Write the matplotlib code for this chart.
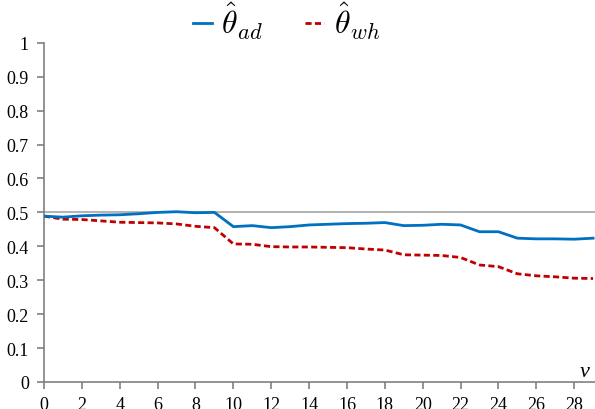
import numpy as np
import matplotlib.pyplot as plt

plt.rcParams['font.family'] = 'serif'
plt.rcParams['font.serif'] = ['Liberation Serif', 'DejaVu Serif']
plt.rcParams['mathtext.fontset'] = 'cm'

# data
v = list(range(30))
theta_ad = [0.489, 0.486, 0.490, 0.492, 0.493, 0.496, 0.500, 0.502, 0.499, 0.500,
            0.458, 0.461, 0.455, 0.458, 0.463, 0.465, 0.467, 0.468, 0.470, 0.461,
            0.462, 0.465, 0.463, 0.443, 0.443, 0.424, 0.422, 0.422, 0.421, 0.424]
theta_wh = [0.489, 0.480, 0.479, 0.475, 0.471, 0.470, 0.469, 0.466, 0.459, 0.455,
            0.407, 0.406, 0.399, 0.398, 0.398, 0.397, 0.396, 0.392, 0.389, 0.375,
            0.374, 0.373, 0.367, 0.345, 0.340, 0.319, 0.313, 0.310, 0.306, 0.305]
ref_level = 0.5
xticks = list(range(0, 29, 2))
yticks = [0, 0.1, 0.2, 0.3, 0.4, 0.5, 0.6, 0.7, 0.8, 0.9, 1]
ytick_labels = ['0', '0.1', '0.2', '0.3', '0.4', '0.5', '0.6', '0.7', '0.8', '0.9', '1']

fig = plt.figure(figsize=(5.95, 4.10), dpi=100)
ax = fig.add_axes([0.074, 0.066, 0.926, 0.827])

ax.axhline(ref_level, color='#a6a6a6', lw=1.2, zorder=1)
ax.plot(v, theta_ad, color='#0070c0', lw=2, label=r'$\hat{\theta}_{ad}$', zorder=3)
ax.plot(v, theta_wh, color='#c00000', lw=2, linestyle=(0, (2.2, 1.2)),
        label=r'$\hat{\theta}_{wh}$', zorder=2)

ax.set_xlim(0, 29.1)
ax.set_ylim(0, 1)
ax.set_xticks(xticks)
ax.set_yticks(yticks)
ax.set_yticklabels(ytick_labels)

for s in ['top', 'right']:
    ax.spines[s].set_visible(False)
for s in ['left', 'bottom']:
    ax.spines[s].set_color('#808080')
    ax.spines[s].set_linewidth(1.2)
ax.tick_params(axis='both', colors='#808080', labelcolor='black', labelsize=13,
               length=5, width=1.2, direction='out')
ax.tick_params(axis='x', pad=5)
ax.tick_params(axis='y', pad=6)

ax.text(0.99, 0.003, 'v', transform=ax.transAxes, style='italic',
        fontsize=16, ha='right', va='bottom')

fig.legend(*ax.get_legend_handles_labels(), loc='upper center',
           bbox_to_anchor=(0.074 + 0.44 * 0.926, 1.005), ncol=2, frameon=False,
           fontsize=23, handlelength=0.6, handletextpad=0.3, columnspacing=1.3,
           borderaxespad=0.0, borderpad=0.1)

fig.savefig('out.png', dpi=100)
